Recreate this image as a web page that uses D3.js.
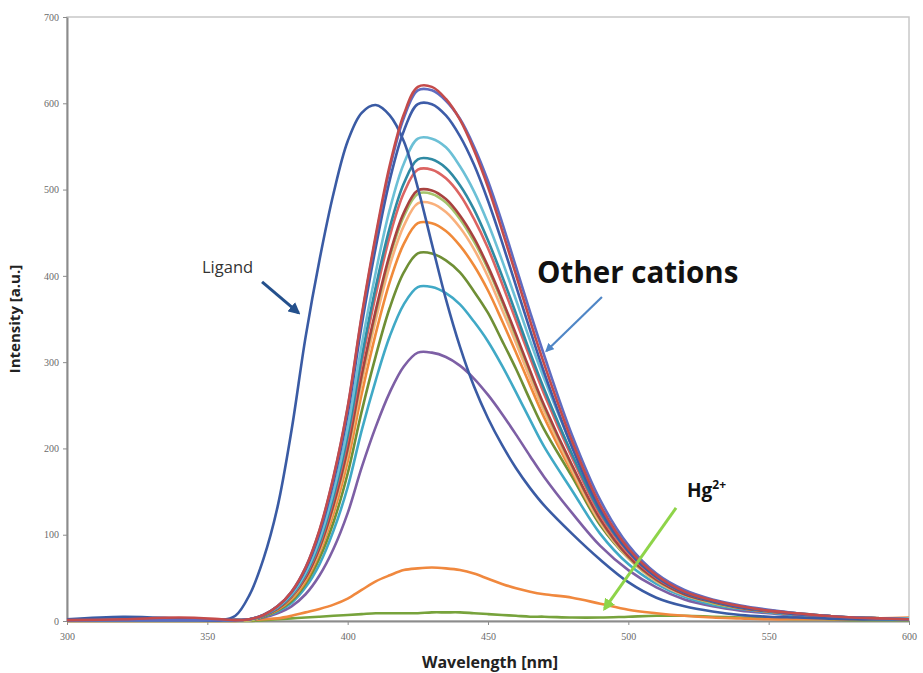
<!DOCTYPE html>
<html>
<head>
<meta charset="utf-8">
<script src="https://cdn.jsdelivr.net/npm/d3@7"></script>
<style>
  body { margin: 0; background: #fff; }
  svg { display: block; font-family: "Open Sans", Lato, sans-serif; }
</style>
</head>
<body>
<svg id="chart" width="923" height="673"></svg>
<script>
// wavelength grid (nm) shared by every spectrum
const wavelength = [300, 320, 340, 355, 360, 365, 370, 375, 380, 385, 390, 395, 400, 405, 410, 415, 420, 425, 430, 435,
                    440, 445, 450, 455, 460, 465, 470, 480, 490, 500, 510, 520, 530, 540, 550, 560, 570, 580, 590, 600];

// intensities
const ligand      = [2, 5, 3, 1, 6, 30, 72, 132, 221, 329, 419, 496, 556, 589, 598, 586, 556, 502, 437, 373,
                     318, 272, 235, 204, 177, 154, 134, 101, 71, 45, 27, 17, 11, 7, 5, 4, 3, 2, 2, 2];
const cationRed   = [1, 2, 4, 2, 1, 2, 7, 17, 34, 62, 106, 168, 248, 354, 447, 528, 587, 619, 619, 605,
                     581, 546, 503, 453, 401, 348, 298, 208, 134, 84, 53, 34, 24, 17, 12, 9, 6, 4, 3, 2];
const cationViolet= [1, 1, 1, 1, 1, 2, 7, 17, 34, 62, 105, 167, 247, 352, 444, 524, 583, 615, 615, 603,
                     582, 550, 510, 462, 410, 358, 308, 215, 140, 88, 55, 36, 25, 18, 13, 9, 6, 4, 3, 2];
const cationNavy  = [1, 1, 1, 1, 1, 2, 7, 17, 33, 60, 102, 162, 240, 343, 433, 511, 568, 599, 599, 586,
                     562, 529, 487, 439, 388, 337, 288, 201, 129, 81, 51, 33, 23, 16, 12, 8, 6, 4, 3, 2];
const cationSky   = [1, 1, 1, 1, 1, 2, 7, 16, 31, 56, 95, 151, 224, 320, 404, 477, 530, 559, 559, 549,
                     527, 498, 461, 418, 372, 325, 281, 202, 132, 84, 53, 35, 24, 17, 12, 9, 6, 4, 3, 3];
const cationTeal  = [1, 1, 1, 1, 1, 2, 6, 15, 30, 54, 91, 145, 215, 306, 387, 456, 507, 535, 535, 525,
                     505, 477, 441, 400, 356, 311, 269, 193, 126, 81, 51, 33, 23, 16, 12, 9, 6, 4, 3, 3];
const cationPink  = [1, 1, 1, 1, 1, 2, 6, 15, 29, 53, 89, 142, 210, 299, 378, 446, 496, 523, 523, 513,
                     494, 466, 432, 391, 348, 305, 263, 189, 123, 79, 50, 33, 23, 16, 12, 8, 6, 4, 3, 3];
const cationBrown = [1, 1, 1, 1, 1, 2, 6, 14, 28, 50, 85, 135, 200, 285, 360, 425, 473, 499, 499, 489,
                     470, 444, 411, 373, 332, 290, 250, 180, 118, 75, 48, 31, 22, 15, 11, 8, 6, 4, 3, 3];
const cationLime  = [1, 1, 1, 1, 1, 1, 6, 14, 27, 50, 84, 134, 198, 283, 357, 422, 469, 495, 495, 485,
                     466, 440, 408, 370, 329, 288, 248, 179, 117, 74, 47, 31, 21, 15, 11, 8, 5, 4, 3, 2];
const cationPeach = [1, 1, 1, 1, 1, 1, 6, 14, 27, 49, 82, 131, 194, 276, 349, 412, 458, 484, 484, 474,
                     456, 431, 399, 361, 322, 281, 243, 175, 114, 73, 46, 30, 21, 15, 11, 8, 5, 4, 3, 2];
const cationOrange= [1, 1, 1, 1, 1, 1, 6, 13, 25, 46, 79, 125, 185, 263, 333, 393, 437, 461, 461, 452,
                     435, 412, 383, 348, 311, 273, 236, 172, 114, 74, 47, 31, 22, 15, 11, 8, 6, 4, 3, 3];
const cationOlive = [1, 1, 1, 1, 1, 1, 5, 12, 23, 43, 73, 115, 171, 243, 307, 363, 404, 426, 426, 418,
                     404, 382, 357, 325, 292, 256, 222, 167, 111, 73, 47, 31, 21, 15, 11, 8, 5, 4, 3, 2];
const cationAqua  = [1, 1, 1, 1, 1, 1, 5, 11, 21, 39, 66, 105, 155, 221, 279, 330, 367, 387, 387, 380,
                     367, 347, 324, 296, 265, 233, 202, 151, 101, 66, 43, 28, 19, 14, 10, 7, 5, 3, 2, 2];
const cationPurple= [1, 1, 1, 1, 1, 1, 4, 9, 17, 31, 53, 84, 125, 178, 225, 265, 295, 311, 311, 306,
                     296, 281, 262, 240, 216, 191, 167, 125, 87, 59, 39, 25, 17, 12, 9, 6, 4, 3, 2, 2];
const cationLow   = [0, 0, 0, 0, 0, 1, 2, 3, 6, 10, 14, 19, 26, 36, 46, 53, 59, 61, 62, 61,
                     59, 55, 49, 43, 38, 34, 31, 27, 20, 13, 9, 6, 4, 3, 2, 2, 2, 2, 3, 4];
const mercury     = [0, 0, 0, 0, 0, 0, 1, 2, 3, 4, 5, 6, 7, 8, 9, 9, 9, 9, 10, 10,
                     10, 9, 8, 7, 6, 5, 5, 4, 4, 5, 6, 6, 5, 4, 3, 2, 2, 1, 1, 1];

const xTicks = [300, 350, 400, 450, 500, 550, 600];
const yTicks = [0, 100, 200, 300, 400, 500, 600, 700];

const series = [
  { values: mercury,      color: '#77a33c' },
  { values: cationLow,    color: '#f0883e' },
  { values: cationPurple, color: '#7d5fa5' },
  { values: cationAqua,   color: '#40a9c6' },
  { values: cationOlive,  color: '#6f8f35' },
  { values: cationOrange, color: '#f08a3a' },
  { values: cationPeach,  color: '#f9b07c' },
  { values: cationLime,   color: '#a6c46c' },
  { values: cationBrown,  color: '#a8423f' },
  { values: cationPink,   color: '#dc6462' },
  { values: cationTeal,   color: '#2f8aa3' },
  { values: cationSky,    color: '#6cc0d6' },
  { values: ligand,       color: '#3a5ba4' },
  { values: cationNavy,   color: '#3d5ca8' },
  { values: cationViolet, color: '#5f6cc0' },
  { values: cationRed,    color: '#c44b4b' },
];

const svg = d3.select('#chart');
const margin = { top: 17, right: 14, bottom: 52, left: 67 };
const width = 923, height = 673;

const x = d3.scaleLinear().domain([300, 600]).range([margin.left, width - margin.right]);
const y = d3.scaleLinear().domain([0, 700]).range([height - margin.bottom, margin.top]);

// plot frame
svg.append('rect')
  .attr('x', x(300)).attr('y', y(700))
  .attr('width', x(600) - x(300)).attr('height', y(0) - y(700))
  .attr('fill', 'none').attr('stroke', '#c8c8c8').attr('stroke-width', 1.5);

const xAxis = d3.axisBottom(x).tickValues(xTicks).tickSize(4).tickSizeOuter(0);
const yAxis = d3.axisLeft(y).tickValues(yTicks).tickSize(4).tickSizeOuter(0);

const xAxisG = svg.append('g').attr('transform', `translate(0,${y(0)})`).call(xAxis);
const yAxisG = svg.append('g').attr('transform', `translate(${x(300)},0)`).call(yAxis);

[xAxisG, yAxisG].forEach(g => {
  g.select('.domain').attr('stroke', '#8c8c8c').attr('stroke-width', 2);
  g.selectAll('.tick line').attr('stroke', '#8c8c8c');
  g.selectAll('.tick text')
    .attr('fill', '#6a6a6a')
    .style('font-family', '"Liberation Serif", serif')
    .style('font-size', '10px');
});
xAxisG.selectAll('.tick text').attr('dy', '1.2em');
yAxisG.selectAll('.tick text').attr('x', -8);

// spectra
const line = d3.line()
  .x((d, i) => x(wavelength[i]))
  .y(d => y(d))
  .curve(d3.curveCatmullRom.alpha(0.5));

svg.append('g')
  .selectAll('path')
  .data(series)
  .join('path')
    .attr('d', d => line(d.values))
    .attr('fill', 'none')
    .attr('stroke', d => d.color)
    .attr('stroke-width', 2.6)
    .attr('stroke-linejoin', 'round');

// axis titles
svg.append('text')
  .attr('x', 490).attr('y', 668)
  .attr('text-anchor', 'middle')
  .style('font-weight', 'bold').style('font-size', '16px').attr('fill', '#222')
  .text('Wavelength [nm]');

svg.append('text')
  .attr('transform', `translate(20,${(y(0) + y(700)) / 2}) rotate(-90)`)
  .attr('text-anchor', 'middle')
  .style('font-weight', 'bold').style('font-size', '15px').attr('fill', '#222')
  .text('Intensity [a.u.]');

// annotations (positions in data units)
const defs = svg.append('defs');
function arrow(id, color, from, to, w) {
  defs.append('marker')
    .attr('id', id)
    .attr('viewBox', '0 0 10 10')
    .attr('refX', 8).attr('refY', 5)
    .attr('markerWidth', 4).attr('markerHeight', 4)
    .attr('orient', 'auto')
    .append('path').attr('d', 'M0,0 L10,5 L0,10 z').attr('fill', color);
  svg.append('line')
    .attr('x1', x(from[0])).attr('y1', y(from[1]))
    .attr('x2', x(to[0])).attr('y2', y(to[1]))
    .attr('stroke', color).attr('stroke-width', w)
    .attr('marker-end', `url(#${id})`);
}

arrow('arrow-ligand', '#24508c', [369.5, 393], [382.5, 357], 3);
arrow('arrow-cations', '#4f86c6', [490.6, 375.5], [470.8, 313], 2.2);
arrow('arrow-hg', '#8ed449', [517, 131], [491.5, 14], 3);

svg.append('text')
  .attr('x', x(348.1)).attr('y', y(403))
  .style('font-size', '16.5px').attr('fill', '#333')
  .text('Ligand');

svg.append('text')
  .attr('x', x(467.5)).attr('y', y(391.7))
  .style('font-size', '29.5px').style('font-weight', 'bold').attr('fill', '#111')
  .text('Other cations');

const hg = svg.append('text')
  .attr('x', x(520.9)).attr('y', y(143.7))
  .style('font-size', '19px').style('font-weight', 'bold').attr('fill', '#111');
hg.append('tspan').text('Hg');
hg.append('tspan').attr('dy', -8).style('font-size', '12px').text('2+');
</script>
</body>
</html>
